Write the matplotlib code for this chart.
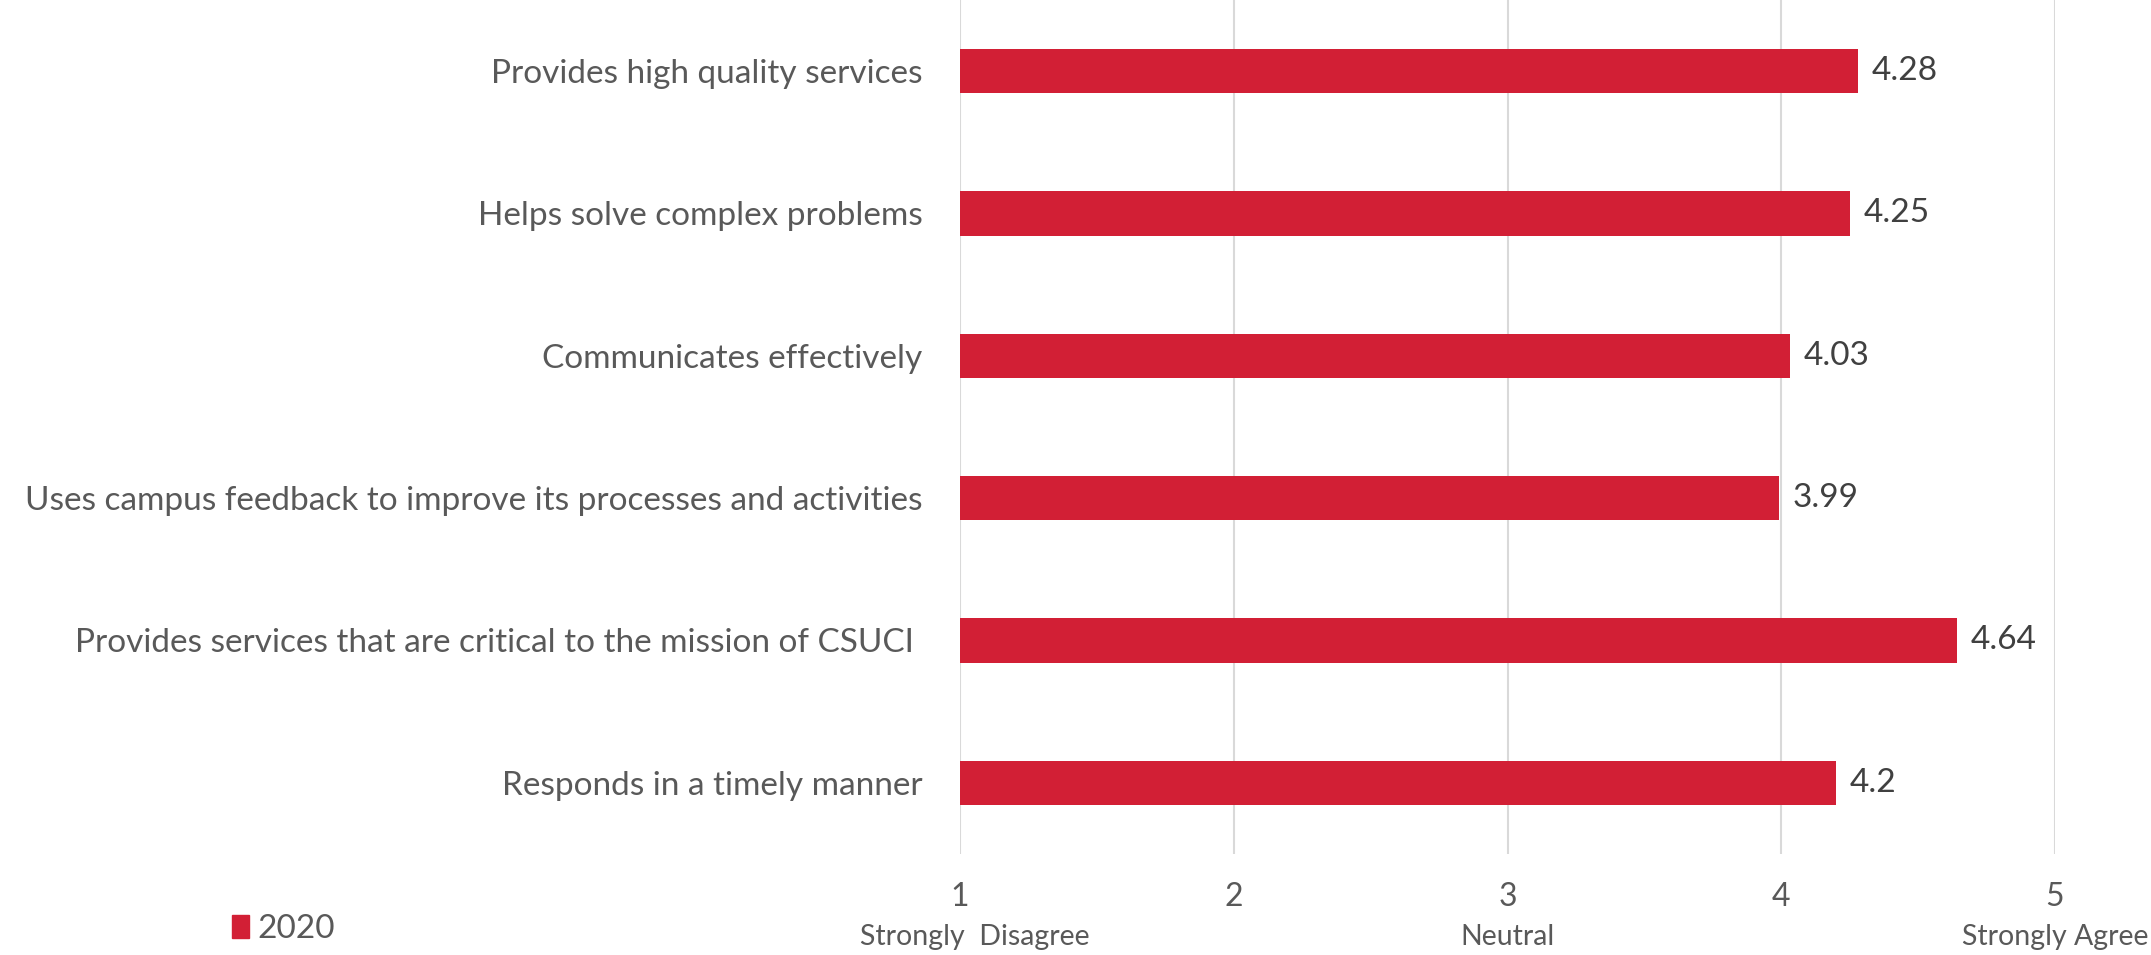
import matplotlib.pyplot as plt
import matplotlib.transforms as mtransforms
from matplotlib.patches import Patch

plt.rcParams['font.family'] = ['Lato', 'DejaVu Sans']

# survey items, top to bottom
items = ['Provides high quality services',
         'Helps solve complex problems',
         'Communicates effectively',
         'Uses campus feedback to improve its processes and activities',
         'Provides services that are critical to the mission of CSUCI ',
         'Responds in a timely manner']
scores = [4.28, 4.25, 4.03, 3.99, 4.64, 4.2]
score_labels = ['4.28', '4.25', '4.03', '3.99', '4.64', '4.2']
ticks = [1, 2, 3, 4, 5]
scale_names = ['Strongly  Disagree', 'Neutral', 'Strongly Agree']
series_name = '2020'

bar_color = '#D21F35'
text_color = '#595959'
grid_color = '#D9D9D9'

fig = plt.figure(figsize=(21.51, 9.55), dpi=100)
ax = fig.add_axes([0.4463, 0.1058, 0.5091, 0.8942])

ypos = list(range(len(items)))[::-1]
ax.barh(ypos, [s - 1 for s in scores], left=1, height=0.31, color=bar_color, zorder=3)

for y, s, lab in zip(ypos, scores, score_labels):
    ax.text(s + 0.05, y, lab, va='center', ha='left', fontsize=24, color='#404040')

ax.set_xlim(1, 5)
ax.set_ylim(-0.5, len(items) - 0.5)
ax.set_xticks(ticks)
ax.set_xticklabels([str(t) for t in ticks])
ax.set_yticks(ypos)
ax.set_yticklabels(items)
ax.tick_params(axis='y', length=0, pad=27, labelsize=24, labelcolor=text_color)
ax.tick_params(axis='x', length=0, pad=20, labelsize=23, labelcolor=text_color)
ax.grid(axis='x', color=grid_color, linewidth=1.5, zorder=0)
for side in ax.spines.values():
    side.set_visible(False)

# descriptive names under the scale numbers (centred a little off the ticks)
trans = mtransforms.blended_transform_factory(ax.transData, fig.transFigure)
for xc, name in zip([1.055, 3.0, 5.0], scale_names):
    ax.text(xc, 1 - 937 / 955, name, transform=trans, ha='center', va='center',
            fontsize=20.5, color=text_color)

fig.legend(handles=[Patch(color=bar_color, label=series_name)],
           loc='center left', bbox_to_anchor=(0.094, 1 - 929 / 955),
           frameon=False, fontsize=24, handlelength=0.5, handleheight=0.7,
           handletextpad=0.25, labelcolor=text_color)

fig.savefig('out.png', dpi=100)
